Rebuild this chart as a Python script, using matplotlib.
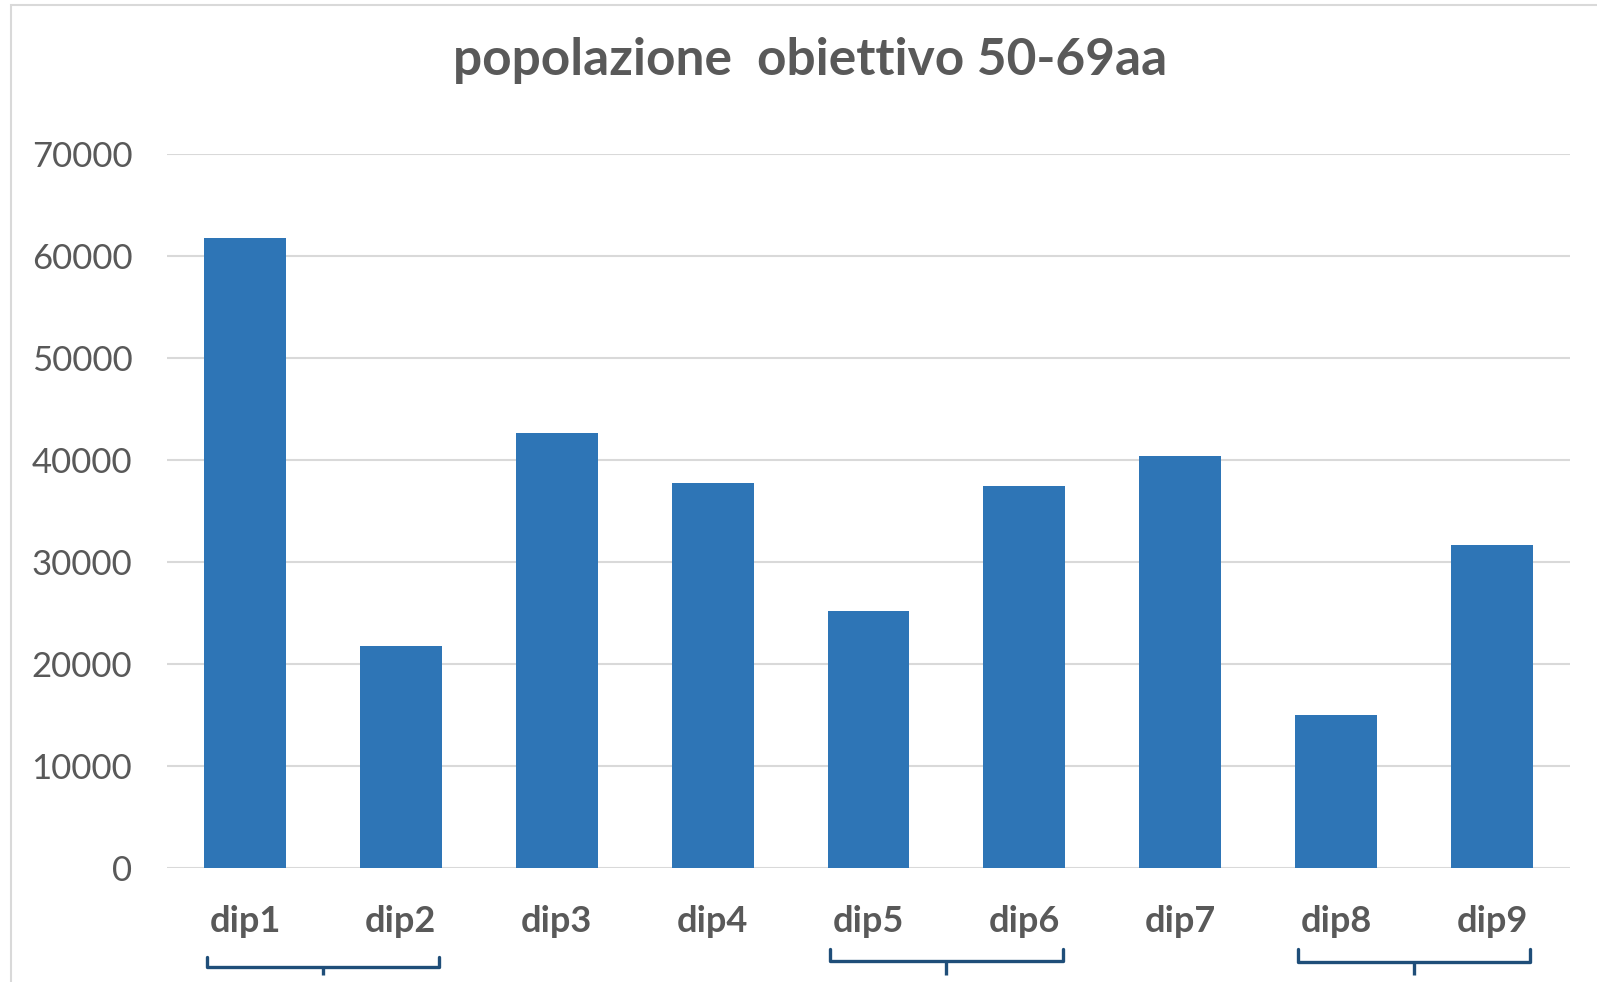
from matplotlib import pyplot as plt
from matplotlib.patches import Rectangle
from matplotlib.transforms import blended_transform_factory

# data
categories = ['dip1', 'dip2', 'dip3', 'dip4', 'dip5', 'dip6', 'dip7', 'dip8', 'dip9']
values = [61800, 21800, 42650, 37750, 25200, 37450, 40400, 15000, 31700]
yticks = [0, 10000, 20000, 30000, 40000, 50000, 60000, 70000]
groups = [(0, 1), (4, 5), (7, 8)]  # categories joined by a brace under the axis

W, H = 1597, 982
bar_w = 0.525
grey = '#595959'

plt.rcParams['font.family'] = ['Lato', 'DejaVu Sans']

fig = plt.figure(figsize=(W / 100, H / 100), dpi=100)
ax = fig.add_axes([167 / W, 1 - 868 / H, (1570 - 167) / W, (868 - 154) / H])

# outer chart border (cut off on the right and bottom in the original)
fig.patches.append(Rectangle((11 / W, -0.1), 1.2, 1 - 5 / H + 0.1, transform=fig.transFigure,
                             fill=False, edgecolor='#D9D9D9', linewidth=1.5))

x = list(range(len(categories)))
ax.bar(x, values, width=bar_w, color='#2E75B6', zorder=3)

ax.set_ylim(0, 70000)
ax.set_xlim(-0.5, len(categories) - 0.5)
ax.set_yticks(yticks)
ax.set_yticklabels([str(t) for t in yticks], fontsize=25, color=grey)
ax.set_xticks(x)
ax.set_xticklabels(categories, fontsize=26, color=grey, fontweight='bold')
ax.tick_params(axis='y', length=0, pad=25)
ax.tick_params(axis='x', length=0, pad=27)
ax.grid(axis='y', color='#D9D9D9', linewidth=1.5, zorder=0)
for s in ax.spines.values():
    s.set_visible(False)

fig.text(0.507, 1 - 75 / H, 'popolazione  obiettivo 50-69aa', ha='center', va='baseline',
         fontsize=37, fontweight='bold', color=grey)

# braces below the category labels
tr = blended_transform_factory(ax.transData, fig.transFigure)
brace_y = [(957, 967), (949, 961), (949, 962)]
for (i, j), (ytop, yh) in zip(groups, brace_y):
    x0 = i - 0.245
    x1 = j + 0.245
    xc = (x0 + x1) / 2
    ax.plot([x0, x0, x1, x1], [1 - ytop / H, 1 - yh / H, 1 - yh / H, 1 - ytop / H],
            transform=tr, color='#1F4E79', linewidth=2.4, clip_on=False,
            solid_joinstyle='round', solid_capstyle='round')
    ax.plot([xc, xc], [1 - yh / H, 1 - 975 / H], transform=tr, color='#1F4E79',
            linewidth=2.4, clip_on=False, solid_capstyle='butt')

fig.savefig('out.png', dpi=100, facecolor='white')
